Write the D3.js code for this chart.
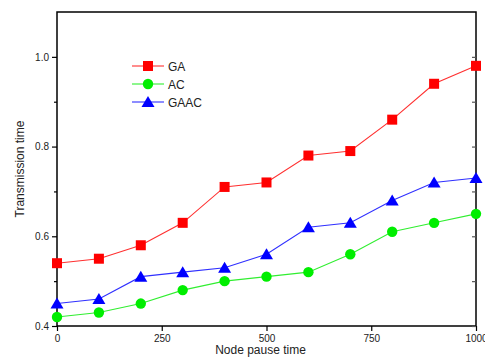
<!DOCTYPE html>
<html><head><meta charset="utf-8">
<script src="https://cdn.jsdelivr.net/npm/d3@7"></script>
<style>body{margin:0;background:#fff}svg{display:block}text{font-family:"Liberation Sans",Arial,sans-serif}</style>
</head><body>
<svg id="c" width="485" height="358"></svg>
<script>
const xValues = [0,100,200,300,400,500,600,700,800,900,1000];
const gaValues = [0.54,0.55,0.58,0.63,0.71,0.72,0.78,0.79,0.86,0.94,0.98];
const acValues = [0.42,0.43,0.45,0.48,0.50,0.51,0.52,0.56,0.61,0.63,0.65];
const gaacValues = [0.45,0.46,0.51,0.52,0.53,0.56,0.62,0.63,0.68,0.72,0.73];
const xTicks = [0,250,500,750,1000];
const yTicks = [0.4,0.6,0.8,1.0];
const yMinorTicks = [0.5,0.7,0.9];
const seriesNames = ["GA","AC","GAAC"];

const svg = d3.select("#c");
const L=57,R=476,T=12,B=326;
const x = d3.scaleLinear().domain([0,1000]).range([L,R]);
const y = d3.scaleLinear().domain([0.4,1.1]).range([B,T]);

const series = [
  {name:seriesNames[0], vals:gaValues, color:"#ff0000", line:"#ff3030", shape:"square"},
  {name:seriesNames[1], vals:acValues, color:"#00ee00", line:"#30ee30", shape:"circle"},
  {name:seriesNames[2], vals:gaacValues, color:"#0000ff", line:"#3030ff", shape:"triangle"}
];

// frame
svg.append("rect").attr("x",L).attr("y",T).attr("width",R-L).attr("height",B-T)
  .attr("fill","none").attr("stroke","#000").attr("stroke-width",1.5);

// bottom axis
const xa = svg.append("g").attr("transform",`translate(0,${B})`)
  .call(d3.axisBottom(x).tickValues(xTicks).tickFormat(d3.format("d")).tickSize(5).tickPadding(4));
xa.select(".domain").remove();
xa.selectAll("line").attr("stroke","#000").attr("stroke-width",1.2);
xa.selectAll("text").attr("font-size",10).attr("fill","#222");

// left axis
const ya = svg.append("g").attr("transform",`translate(${L},0)`)
  .call(d3.axisLeft(y).tickValues(yTicks).tickFormat(d3.format(".1f")).tickSize(5).tickPadding(3));
ya.select(".domain").remove();
ya.selectAll("line").attr("stroke","#000").attr("stroke-width",1.2);
ya.selectAll("text").attr("font-size",10).attr("fill","#222");
const yam = svg.append("g").attr("transform",`translate(${L},0)`)
  .call(d3.axisLeft(y).tickValues(yMinorTicks).tickFormat("").tickSize(3));
yam.select(".domain").remove();
yam.selectAll("line").attr("stroke","#000").attr("stroke-width",1.2);

// right axis inward ticks
const yr = svg.append("g").attr("transform",`translate(${R},0)`)
  .call(d3.axisLeft(y).tickValues(yTicks.concat(yMinorTicks)).tickFormat("").tickSize(4));
yr.select(".domain").remove();
yr.selectAll("line").attr("stroke","#555").attr("stroke-width",1.2);

// axis titles
svg.append("text").attr("x",(L+R)/2-6).attr("y",354).attr("text-anchor","middle")
  .attr("font-size",12).attr("fill","#222").text("Node pause time");
svg.append("text").attr("transform",`translate(24,${(T+B)/2}) rotate(-90)`).attr("text-anchor","middle")
  .attr("font-size",12).attr("fill","#222").text("Transmission time");

const plot = svg.append("g");
const line = d3.line().x((d,i)=>x(xValues[i])).y(d=>y(d));

function marker(g, shape, cx, cy, color){
  if(shape==="square") g.append("rect").attr("x",cx-5).attr("y",cy-5).attr("width",10).attr("height",10).attr("fill",color);
  else if(shape==="circle") g.append("circle").attr("cx",cx).attr("cy",cy).attr("r",5.2).attr("fill",color);
  else g.append("path").attr("d",`M${cx},${cy-6}L${cx+6.5},${cy+5}L${cx-6.5},${cy+5}Z`).attr("fill",color);
}

series.forEach(s=>{
  plot.append("path").datum(s.vals).attr("d",line).attr("fill","none").attr("stroke",s.line).attr("stroke-width",1.1);
  s.vals.forEach((v,i)=>marker(plot,s.shape,x(xValues[i]),y(v),s.color));
});

// legend
series.forEach((s,i)=>{
  const ly = 66 + i*18;
  svg.append("line").attr("x1",132).attr("x2",164).attr("y1",ly).attr("y2",ly).attr("stroke",s.line).attr("stroke-width",1.1);
  marker(svg,s.shape,148,ly,s.color);
  svg.append("text").attr("x",168).attr("y",ly+4.5).attr("font-size",12).attr("fill","#222").text(s.name);
});
</script>
</body></html>
